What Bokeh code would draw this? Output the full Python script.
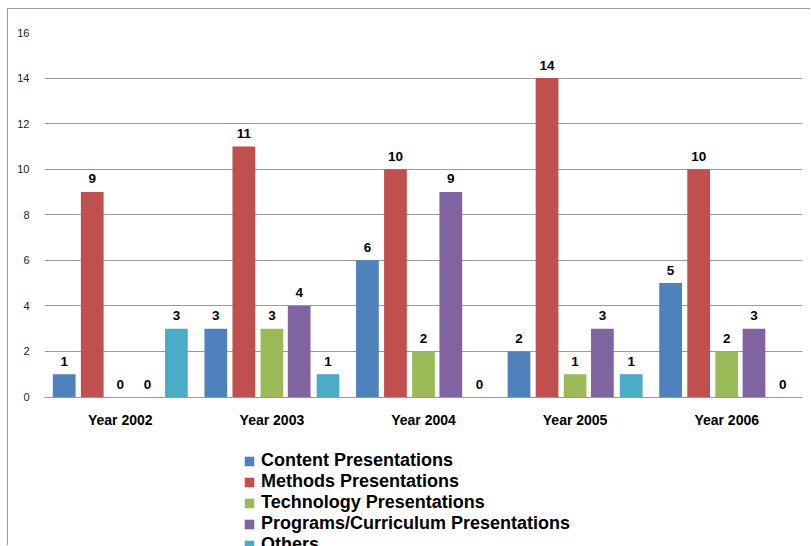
from bokeh.plotting import figure
from bokeh.models import ColumnDataSource, FactorRange, FixedTicker, Legend, LegendItem, Range1d
from bokeh.transform import dodge
from bokeh.core.properties import value
from bokeh.embed import file_html
from bokeh.resources import INLINE

years = ["Year 2002", "Year 2003", "Year 2004", "Year 2005", "Year 2006"]
content = [1, 3, 6, 2, 5]
methods = [9, 11, 10, 14, 10]
technology = [0, 3, 2, 1, 2]
programs = [0, 4, 9, 3, 3]
others = [3, 1, 0, 1, 0]
y_ticks = [0, 2, 4, 6, 8, 10, 12, 14, 16]

series = [
    ("content", "Content Presentations", content, "#4F81BD", -0.37),
    ("methods", "Methods Presentations", methods, "#C0504D", -0.185),
    ("technology", "Technology Presentations", technology, "#9BBB59", 0.0),
    ("programs", "Programs/Curriculum Presentations", programs, "#8064A2", 0.18),
    ("others", "Others", others, "#4BACC6", 0.37),
]

data = {"years": years}
for key, _, vals, _, _ in series:
    data[key] = vals
    data[key + "_lbl"] = [str(v) for v in vals]
source = ColumnDataSource(data)

FONT = "Liberation Sans"

p = figure(
    x_range=FactorRange(factors=years, range_padding=0),
    y_range=Range1d(-6.562, 16),
    width=803, height=537,
    output_backend="svg", toolbar_location=None,
    min_border_left=36, min_border_right=9,
    min_border_top=23, min_border_bottom=0,
)
p.styles = {"margin-left": "7px", "margin-top": "8px",
            "border-left": "1px solid #999999", "border-top": "1px solid #999999"}
p.outline_line_color = None
p.background_fill_color = "white"
p.border_fill_color = "white"

items = []
for key, name, vals, color, off in series:
    r = p.vbar(x=dodge("years", off, range=p.x_range), top=key, bottom=0, width=0.15,
               source=source, fill_color=color, line_color=None)
    items.append(LegendItem(label=name, renderers=[r]))
    p.text(x=dodge("years", off, range=p.x_range), y=key, text=key + "_lbl",
           source=source, text_align="center", text_baseline="middle",
           y_offset=-13, text_font=value(FONT), text_font_style="bold",
           text_font_size="13.5px", text_color="black")

p.xgrid.grid_line_color = None
p.ygrid.grid_line_color = "#999999"
p.ygrid.grid_line_width = 1
p.yaxis.ticker = FixedTicker(ticks=y_ticks)
p.yaxis.axis_line_color = None
p.yaxis.major_tick_line_color = None
p.yaxis.minor_tick_line_color = None
p.yaxis.major_label_text_font = FONT
p.yaxis.major_label_text_font_size = "11px"
p.yaxis.major_label_text_color = "#222222"
p.yaxis.major_label_standoff = 9

p.xaxis.fixed_location = 0
p.xaxis.axis_line_color = "#999999"
p.xaxis.major_tick_line_color = None
p.xaxis.minor_tick_line_color = None
p.xaxis.major_label_text_font = FONT
p.xaxis.major_label_text_font_style = "bold"
p.xaxis.major_label_text_font_size = "14px"
p.xaxis.major_label_text_color = "black"
p.xaxis.major_label_standoff = 9

legend = Legend(items=items, location=(199, -9), orientation="vertical",
                padding=0, spacing=0, margin=0,
                glyph_width=12, glyph_height=12, label_standoff=6,
                label_text_font=FONT, label_text_font_style="bold",
                label_text_font_size="18px", label_text_color="black",
                border_line_color=None, background_fill_alpha=0)
p.add_layout(legend, "center")

open("out.html", "w").write(file_html(p, INLINE))
